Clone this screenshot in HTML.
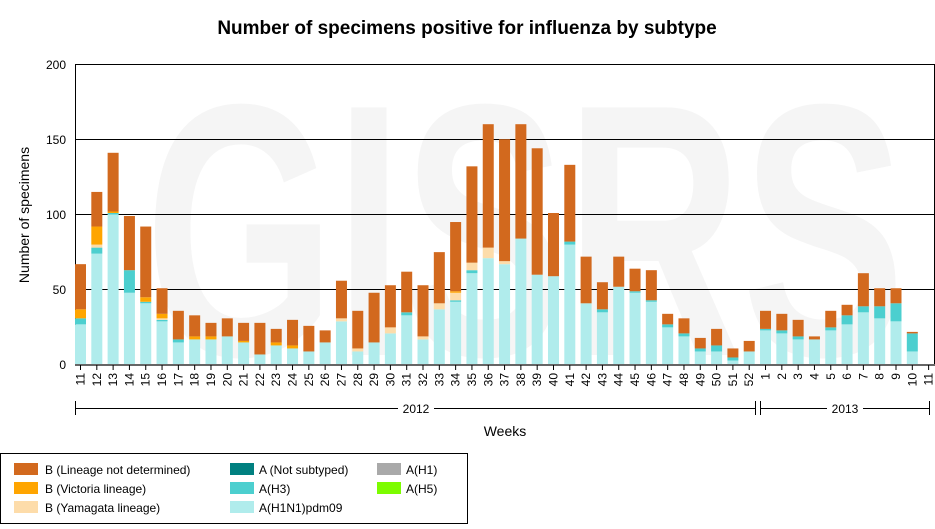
<!DOCTYPE html>
<html><head><meta charset="utf-8"><style>
body{margin:0;background:#fff;font-family:"Liberation Sans",Arial,sans-serif}
svg{display:block}
</style></head><body>
<svg id="s" width="935" height="529" xmlns="http://www.w3.org/2000/svg" font-family="Liberation Sans, Arial, sans-serif">
<text x="525" y="355" font-size="360" font-weight="bold" fill="#f5f5f5" text-anchor="middle" textLength="760" lengthAdjust="spacingAndGlyphs">GISRS</text>
<text x="467" y="34" font-size="19" font-weight="bold" text-anchor="middle" fill="#000">Number of specimens positive for influenza by subtype</text>
<g id="grid" stroke="#000" stroke-width="1">
<line x1="75" y1="64.5" x2="935" y2="64.5"/>
<line x1="75" y1="139.5" x2="935" y2="139.5"/>
<line x1="75" y1="214.5" x2="935" y2="214.5"/>
<line x1="75" y1="289.5" x2="935" y2="289.5"/>
<line x1="934.5" y1="64" x2="934.5" y2="365"/>
<line x1="75.5" y1="64" x2="75.5" y2="366"/>
</g>
<g font-size="12" text-anchor="end" fill="#000">
<text x="66" y="69">200</text><text x="66" y="144">150</text><text x="66" y="219">100</text><text x="66" y="294">50</text><text x="66" y="369">0</text>
</g>
<text transform="translate(29,215) rotate(-90)" font-size="14" text-anchor="middle">Number of specimens</text>
<g id="bars"></g>
<line x1="75" y1="365" x2="935" y2="365" stroke="#666" stroke-width="2"/>
<g id="ticks"></g>
<g stroke="#000" stroke-width="1">
<line x1="75" y1="408.5" x2="755" y2="408.5"/><line x1="75.5" y1="401" x2="75.5" y2="415"/><line x1="755.5" y1="401" x2="755.5" y2="415"/>
<line x1="760" y1="408.5" x2="930" y2="408.5"/><line x1="760.5" y1="401" x2="760.5" y2="415"/><line x1="929.5" y1="401" x2="929.5" y2="415"/>
</g>
<rect x="398" y="402" width="36" height="14" fill="#fff"/>
<text x="416" y="413" font-size="12" text-anchor="middle">2012</text>
<rect x="827" y="402" width="36" height="14" fill="#fff"/>
<text x="845" y="413" font-size="12" text-anchor="middle">2013</text>
<text x="505" y="436" font-size="14" text-anchor="middle">Weeks</text>
<rect x="0.5" y="453.5" width="467" height="70" fill="#fff" stroke="#000"/>
<g font-size="12">
<rect x="14" y="463" width="24" height="12" fill="#d2691e"/><text x="45" y="474">B (Lineage not determined)</text>
<rect x="14" y="482" width="24" height="12" fill="#ffa500"/><text x="45" y="493">B (Victoria lineage)</text>
<rect x="14" y="501" width="24" height="12" fill="#fddcaa"/><text x="45" y="512">B (Yamagata lineage)</text>
<rect x="230" y="463" width="24" height="12" fill="#008080"/><text x="259" y="474">A (Not subtyped)</text>
<rect x="230" y="482" width="24" height="12" fill="#4ccfcf"/><text x="259" y="493">A(H3)</text>
<rect x="230" y="501" width="24" height="12" fill="#b0ecec"/><text x="259" y="512">A(H1N1)pdm09</text>
<rect x="377" y="463" width="24" height="12" fill="#a9a9a9"/><text x="406" y="474">A(H1)</text>
<rect x="377" y="482" width="24" height="12" fill="#7cfc00"/><text x="406" y="493">A(H5)</text>
</g>
</svg>
<script>
var d=[
[27,31,31,37,67],[74,78,80,92,115],[100,101,101,102,141],[48,63,63,63,99],[41,42,42,45,92],[29,30,31,34,51],
[15,17,17,17,36],[17,17,17,19,33],[17,17,17,19,28],[19,19,19,19,31],[15,15,15,16,28],[7,7,7,7,28],
[13,13,13,15,24],[11,11,11,13,30],[9,9,9,9,26],[15,15,15,15,23],[29,29,31,31,56],[9,9,11,11,36],
[15,15,15,15,48],[21,21,25,25,53],[33,35,35,35,62],[17,17,19,19,53],[37,37,41,41,75],[42,43,48,49,95],
[61,63,68,68,132],[71,71,78,78,160],[67,67,69,69,150],[84,84,84,84,160],[60,60,60,60,144],[59,59,59,59,101],
[80,82,82,82,133],[41,41,41,41,72],[35,37,37,37,55],[52,52,52,52,72],[48,49,49,49,64],[42,43,43,43,63],
[25,27,27,27,34],[19,21,21,21,31],[9,11,11,11,18],[9,13,13,13,24],[3,5,5,5,11],[9,9,9,9,16],
[23,24,24,24,36],[21,23,23,23,34],[17,19,19,19,30],[17,17,17,17,19],[23,25,25,25,36],[27,33,33,33,40],
[35,39,39,39,61],[31,39,39,39,51],[29,41,41,41,51],[9,21,21,21,22],[0,0,0,0,0]];
var cols=["#b0ecec","#4ccfcf","#fddcaa","#ffa500","#d2691e"];
var labels=[];for(var w=11;w<=52;w++)labels.push(w);for(var w=1;w<=11;w++)labels.push(w);
var ns="http://www.w3.org/2000/svg",b=document.getElementById("bars"),t=document.getElementById("ticks");
var k=1.505,y0=365;
function el(n,a,p){var e=document.createElementNS(ns,n);for(var i in a)e.setAttribute(i,a[i]);p.appendChild(e);return e;}
for(var i=0;i<53;i++){var cx=80.5+i*16.31,prev=0;
for(var j=0;j<5;j++){var v=d[i][j];if(v>prev){el("rect",{x:cx-5.5,y:y0-v*k,width:11,height:(v-prev)*k,fill:cols[j]},b);}prev=Math.max(prev,v);}
el("line",{x1:cx,y1:365,x2:cx,y2:370,stroke:"#000"},t);
var tx=el("text",{transform:"translate("+(cx+4)+",373) rotate(-90)","font-size":"12","text-anchor":"end"},t);tx.textContent=labels[i];}
</script>
</body></html>
